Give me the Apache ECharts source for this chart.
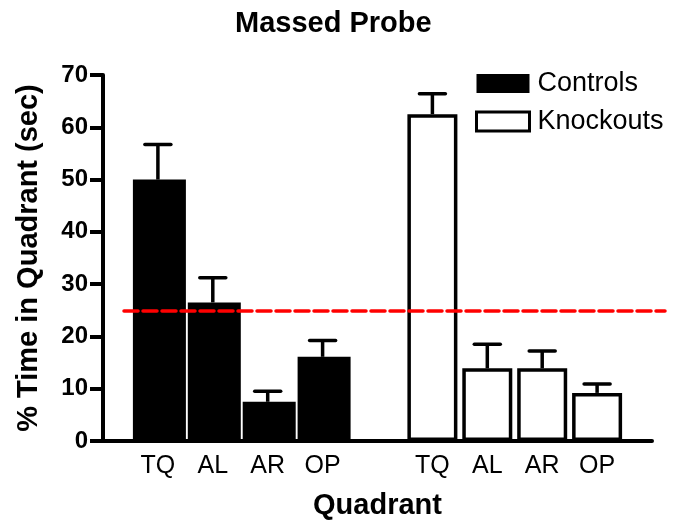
<!DOCTYPE html>
<html>
<head>
<meta charset="utf-8">
<script src="https://cdn.jsdelivr.net/npm/echarts@6/dist/echarts.min.js"></script>
<style>
* { margin: 0; padding: 0; }
body { background: #fff; }
#chart { width: 678px; height: 521px; }
</style>
</head>
<body>
<div id="chart"></div>
<script>
// quadrant labels and slots on the category axis (empty slots = gaps)
const categories = ['', 'TQ', 'AL', 'AR', 'OP', '', 'TQ', 'AL', 'AR', 'OP', '']
const controlsIdx = [1, 2, 3, 4]
const knockoutsIdx = [6, 7, 8, 9]
// mean % time and SEM (upper error only)
const controls = [50.0, 26.5, 7.5, 16.1]
const controlsErr = [6.7, 4.7, 2.0, 3.1]
const knockouts = [62.5, 13.9, 13.9, 9.2]
const knockoutsErr = [3.9, 4.6, 3.3, 1.7]
const chanceLevel = 25
const yTicks = { min: 0, max: 70, interval: 10 }

const font = "'Liberation Sans', Arial, sans-serif"

const chart = echarts.init(document.getElementById('chart'))

function errData(idx, vals, errs) {
    return idx.map((x, i) => [x, vals[i], vals[i] + errs[i]])
}

function renderErr(params, api) {
    const base = api.coord([api.value(0), api.value(1)])
    const top = api.coord([api.value(0), api.value(2)])
    const style = { stroke: '#000', lineWidth: 3.5, lineCap: 'round' }
    return {
        type: 'group',
        children: [
            { type: 'line', shape: { x1: base[0], y1: base[1], x2: top[0], y2: top[1] }, style: { stroke: '#000', lineWidth: 3.5 } },
            { type: 'line', shape: { x1: top[0] - 13, y1: top[1], x2: top[0] + 13, y2: top[1] }, style: style }
        ]
    }
}

chart.setOption({
    animation: false,
    textStyle: { fontFamily: font },
    title: {
        text: 'Massed Probe',
        left: 230,
        top: 4,
        textStyle: { fontFamily: font, fontWeight: 'bold', fontSize: 29, color: '#000' }
    },
    legend: {
        orient: 'vertical',
        left: 475,
        top: 70,
        padding: 0,
        itemWidth: 53,
        itemHeight: 19,
        itemGap: 11,
        icon: 'rect',
        selectedMode: false,
        textStyle: { fontFamily: font, fontSize: 27, color: '#000', padding: [0, 0, 0, 3] },
        data: [
            { name: 'Controls', itemStyle: { color: '#000', borderWidth: 0 } },
            { name: 'Knockouts', itemStyle: { color: '#fff', borderColor: '#000', borderWidth: 3 } }
        ]
    },
    grid: { left: 103, right: 26, top: 75, bottom: 80, containLabel: false, outerBoundsMode: 'none' },
    xAxis: {
        type: 'category',
        data: categories,
        boundaryGap: false,
        name: 'Quadrant',
        nameLocation: 'middle',
        nameGap: 50,
        nameTextStyle: { fontFamily: font, fontWeight: 'bold', fontSize: 29, color: '#000' },
        axisLine: { lineStyle: { color: '#000', width: 4 } },
        axisTick: { show: false },
        axisLabel: { interval: 0, margin: 13, fontFamily: font, fontSize: 25, color: '#000' },
        splitLine: { show: false }
    },
    yAxis: {
        type: 'value',
        min: yTicks.min,
        max: yTicks.max,
        interval: yTicks.interval,
        name: '% Time in Quadrant (sec)',
        nameLocation: 'middle',
        nameGap: 60,
        nameTextStyle: { fontFamily: font, fontWeight: 'bold', fontSize: 29, color: '#000' },
        axisLine: { show: true, lineStyle: { color: '#000', width: 4 } },
        axisTick: { show: true, length: 13, lineStyle: { color: '#000', width: 4 } },
        axisLabel: { margin: 15, fontFamily: font, fontWeight: 'bold', fontSize: 24, color: '#000' },
        splitLine: { show: false }
    },
    series: [
        {
            name: 'Controls',
            type: 'bar',
            barWidth: 53,
            barGap: '-100%',
            itemStyle: { color: '#000' },
            data: controlsIdx.map((x, i) => [x, controls[i]]),
            markLine: {
                silent: true,
                symbol: 'none',
                label: { show: false },
                lineStyle: { color: '#ff0000', width: 3.5, type: [14, 5], cap: 'round' },
                data: [[{ x: 124, yAxis: chanceLevel }, { x: 665, yAxis: chanceLevel }]],
                z: 10
            }
        },
        {
            name: 'Knockouts',
            type: 'bar',
            barWidth: 50,
            barGap: '-100%',
            itemStyle: { color: '#fff', borderColor: '#000', borderWidth: 3.5 },
            data: knockoutsIdx.map((x, i) => [x, knockouts[i]])
        },
        {
            type: 'custom',
            renderItem: renderErr,
            encode: { x: 0, y: [1, 2] },
            z: 5,
            data: errData(controlsIdx, controls, controlsErr)
        },
        {
            type: 'custom',
            renderItem: renderErr,
            encode: { x: 0, y: [1, 2] },
            z: 5,
            data: errData(knockoutsIdx, knockouts, knockoutsErr)
        }
    ]
})
</script>
</body>
</html>
